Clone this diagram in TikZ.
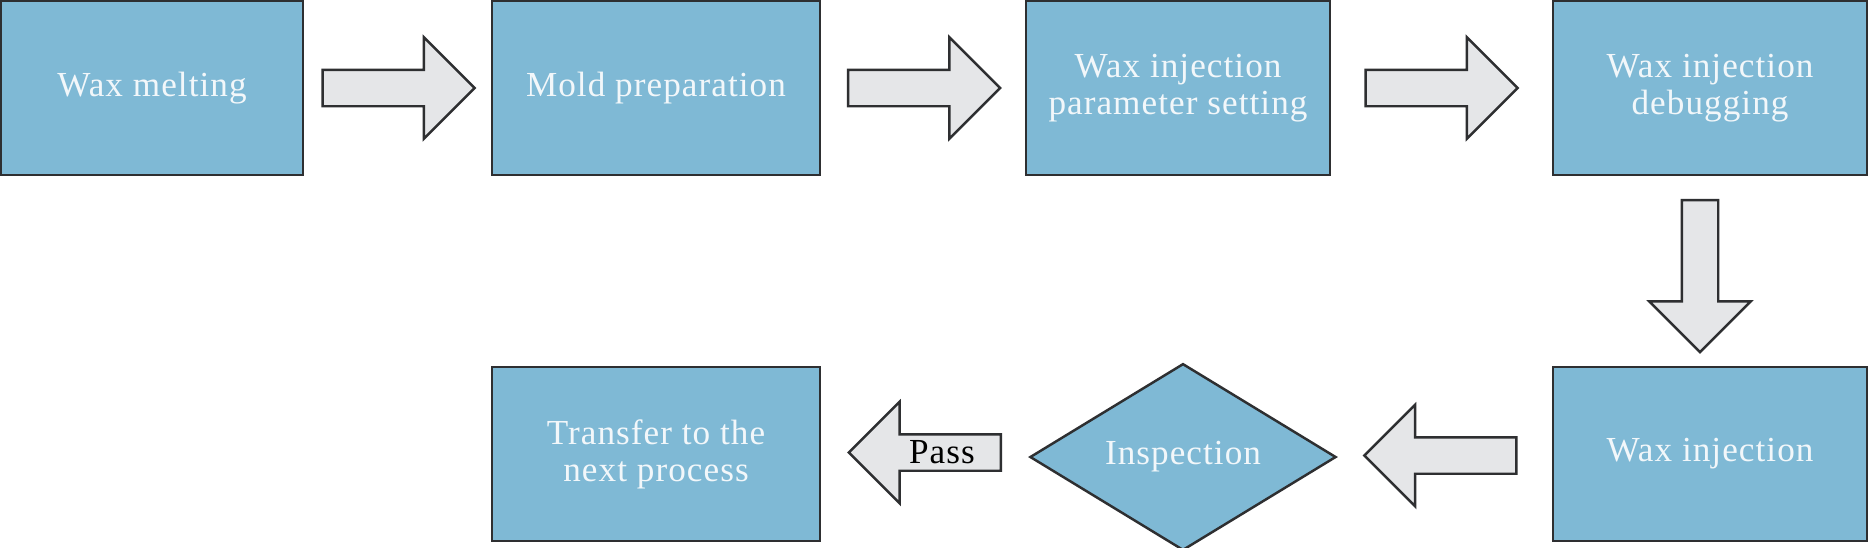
\documentclass[tikz,border=0pt]{standalone}
\usepackage{fontspec}
\setmainfont{Liberation Serif}[LetterSpace=3]
\usepackage{tikz}
\usetikzlibrary{calc,positioning,shapes.geometric,shapes.arrows}
\definecolor{boxblue}{HTML}{7FB9D5}
\definecolor{edge}{HTML}{2E2F31}
\definecolor{arrowgray}{HTML}{E5E6E8}
\definecolor{label}{HTML}{F2F7FA}

\tikzset{
  stepbox/.style={draw=edge,fill=boxblue,line width=0.7pt,text=label,align=center,inner sep=0pt,
    minimum height=1.74cm},
  flowarrow/.style={single arrow,draw=edge,fill=arrowgray,line width=0.7pt,inner sep=0.17cm,
    minimum height=1.52cm,single arrow head extend=0.325cm,single arrow tip angle=90},
}

\begin{document}
\begin{tikzpicture}[x=0.01cm,y=-0.01cm,font=\fontsize{10}{10.6}\selectfont]
  \fill[white] (0,0) rectangle (1869,547);
  \useasboundingbox (0,0) rectangle (1869,547);

  % upper row
  \node[stepbox,minimum width=3.02cm] (melt) at (152,88) {Wax melting};
  \node[stepbox,minimum width=3.28cm] (mold) at (656,88) {Mold preparation};
  \node[stepbox,minimum width=3.04cm] (param) at (1178,88) {Wax injection\\parameter setting};
  \node[stepbox,minimum width=3.14cm] (debug) at (1710,88) {Wax injection\\debugging};

  % lower row
  \node[stepbox,minimum width=3.14cm] (inject) at (1710,454) {Wax injection};
  \node[diamond,draw=edge,fill=boxblue,line width=0.7pt,text=label,inner sep=0pt,
    minimum width=3.06cm,minimum height=1.74cm] (inspect) at (1183,457) {Inspection};
  \node[stepbox,minimum width=3.28cm] (transfer) at (656,454) {Transfer to the\\next process};

  % block arrows
  \node[flowarrow] (a1) at ($(melt.east)!0.5!(mold.west)+(-8,0)$) {};
  \node[flowarrow] (a2) at ($(mold.east)!0.5!(param.west)+(-8,0)$) {};
  \node[flowarrow] (a3) at ($(param.east)!0.5!(debug.west)+(-9,0)$) {};
  \node[flowarrow,shape border rotate=270] (a4) at ($(debug.south)!0.5!(inject.north)+(-10,-4)$) {};
  \node[flowarrow,shape border rotate=180] (a5) at ($(inspect.east)!0.5!(inject.west)+(5,0)$) {};
  \node[flowarrow,shape border rotate=180] (a6) at ($(transfer.east)!0.5!(inspect.west)+(9,-3)$) {};
  \node[text=black] (pass) at ($(a6.center)+(8,0)$) {Pass};
\end{tikzpicture}
\end{document}
